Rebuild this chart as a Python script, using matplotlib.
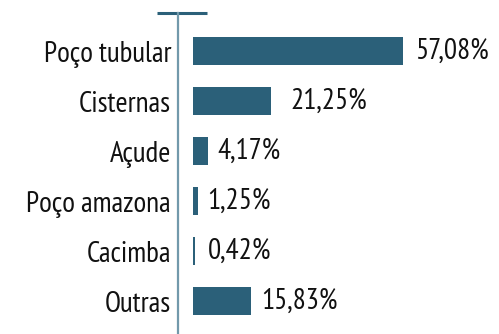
import numpy as np
import matplotlib
matplotlib.use("Agg")
from matplotlib import pyplot as plt

plt.rcParams['font.family'] = ['PT Sans Narrow', 'Roboto Condensed', 'DejaVu Sans']

categorias = ["Poço tubular", "Cisternas", "Açude", "Poço amazona", "Cacimba", "Outras"]
valores = [57.08, 21.25, 4.17, 1.25, 0.42, 15.83]
rotulos = ["57,08%", "21,25%", "4,17%", "1,25%", "0,42%", "15,83%"]

# espaço (px) entre a ponta da barra e o rótulo
desloc = [12, 19, 9, 10, 13, 10]

cor_barra = "#2b6079"
cor_eixo = "#7299ab"

fig = plt.figure(figsize=(4.99, 3.34), dpi=100)
ax = fig.add_axes([178/499, 0, 321/499, 321/334])

y = np.arange(len(categorias))
ax.barh(y, valores, height=0.57, color=cor_barra)

# rótulos de valor à direita das barras
for yi, v, r, d in zip(y, valores, rotulos, desloc):
    ax.annotate(r, (v, yi), xytext=(d * 0.72, 0), textcoords='offset points',
                va='center', ha='left', fontsize=21, color='#111111')

ax.set_xlim(-4.08, 83.2)
ax.set_ylim(5.66, -0.76)
ax.set_yticks(y)
ax.set_yticklabels(categorias, fontsize=21, color='#111111')
ax.tick_params(axis='y', length=0, pad=5)
ax.set_xticks([])

for s in ['top', 'right', 'bottom']:
    ax.spines[s].set_visible(False)
ax.spines['left'].set_color(cor_eixo)
ax.spines['left'].set_linewidth(1.6)

# traço horizontal no topo do eixo
ax.plot([(157-178)/321, (207-178)/321], [1, 1], color=cor_barra, lw=2.2,
        transform=ax.transAxes, clip_on=False, solid_capstyle='butt')

fig.savefig("out.png", dpi=100)
